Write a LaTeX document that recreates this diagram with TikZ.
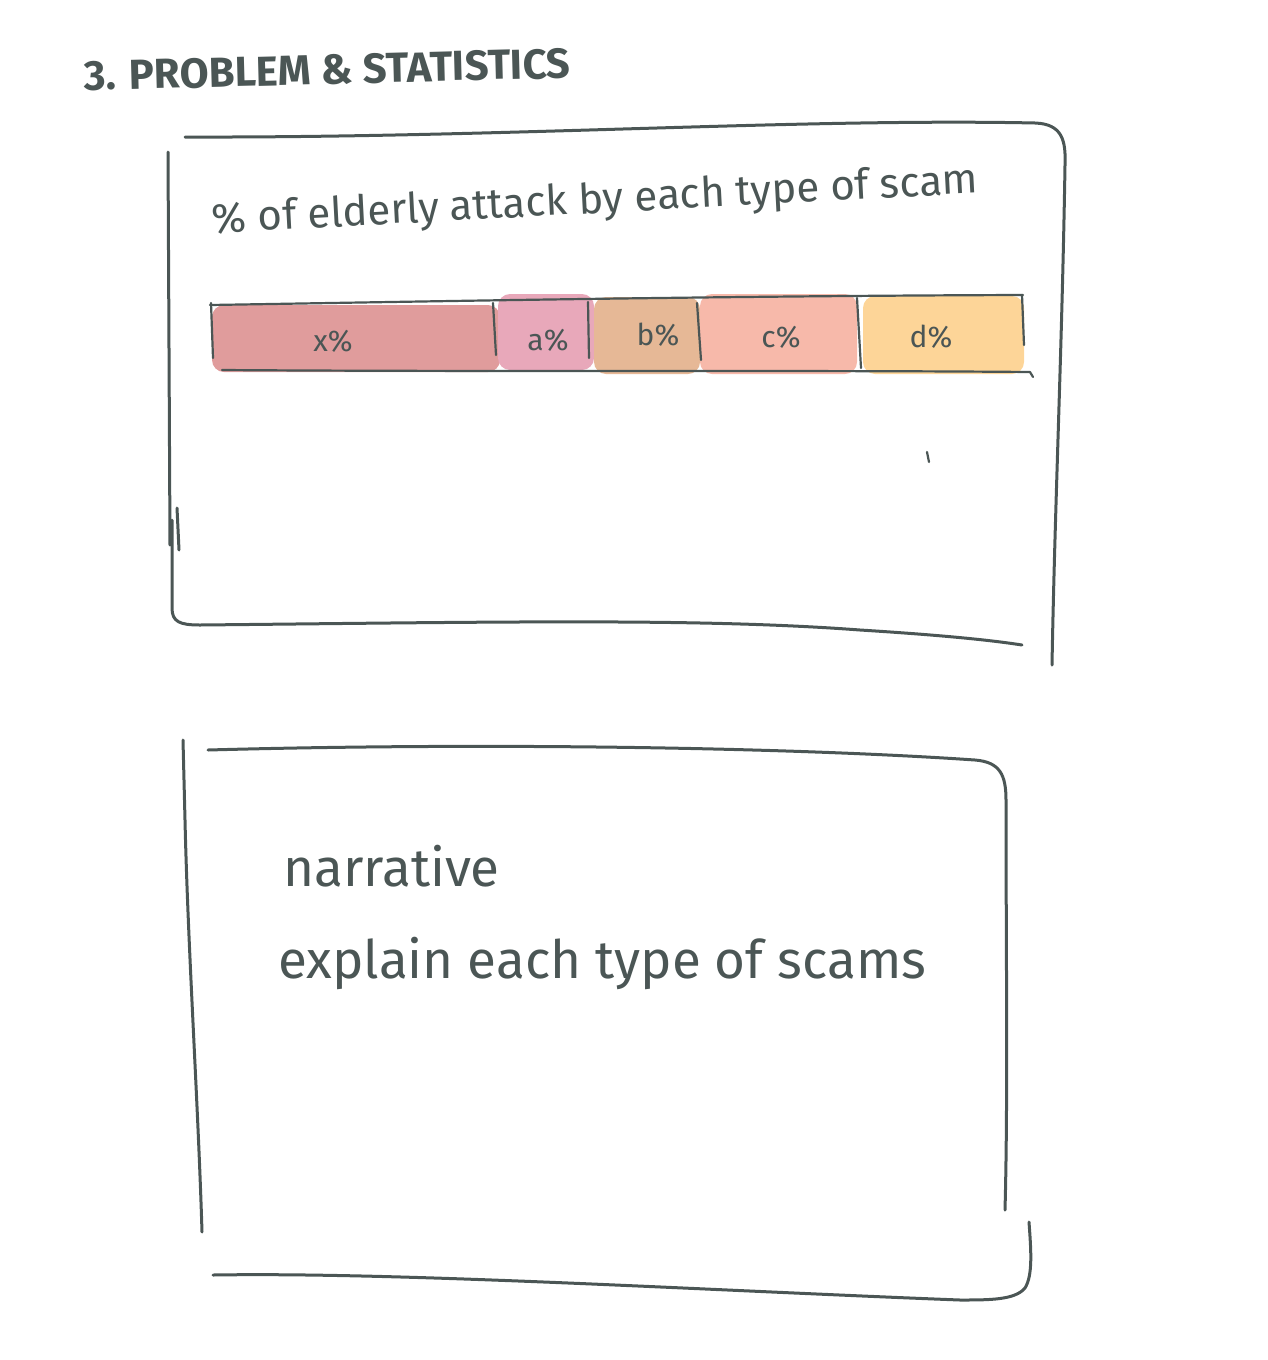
\documentclass[tikz,border=0pt]{standalone}
\usepackage{fontspec}
\setmainfont{Liberation Sans}
\newfontfamily\handfont{Fira Sans}
\definecolor{ink}{HTML}{4B5655}
\definecolor{fx}{HTML}{E09C9C}
\definecolor{fa}{HTML}{E8A8BA}
\definecolor{fb}{HTML}{E6B896}
\definecolor{fc}{HTML}{F7B9AA}
\definecolor{fd}{HTML}{FDD598}
\tikzset{
  pen/.style={draw=ink, line width=3pt, line cap=round, line join=round},
  thinpen/.style={draw=ink, line width=2.2pt, line cap=round, line join=round},
  blob/.style={rounded corners=12pt, draw=none},
  lbl/.style={text=ink, font=\handfont\fontsize{30}{34}\selectfont, inner sep=0pt},
  txt/.style={text=ink, font=\handfont\fontsize{53}{60}\selectfont, inner sep=0pt, anchor=west},
}
\begin{document}
\begin{tikzpicture}[x=1pt,y=-1pt]
\useasboundingbox (0,0) rectangle (1268,1360);
% title
\node[text=ink, font=\handfont\fontseries{sb}\selectfont\fontsize{42}{48}\selectfont, anchor=west, inner sep=0pt, rotate=1.5] (title) at (84,76) {3. PROBLEM \& STATISTICS};

% box 1
\draw[pen] (185,137) .. controls (500,138) and (800,118) .. (1035,123) .. controls (1062,124) and (1066,140) .. (1065,165) .. controls (1062,350) and (1055,500) .. (1052,665);
\draw[pen] (168,152) -- (170,545);
\draw[pen] (177,508) -- (179,550);
\draw[pen] (172,520) -- (172,608) .. controls (172,622) and (180,625) .. (200,625) .. controls (500,622) and (700,618) .. (860,630) .. controls (940,635) and (990,640) .. (1022,645);

% heading text
\node[txt, font=\handfont\fontsize{42}{48}\selectfont, rotate=3] (head) at (212,222) {\% of elderly attack by each type of scam};

% bar fills
\fill[fx, blob] (212,305) rectangle (500,372);
\fill[fa, blob] (498,294) rectangle (594,370);
\fill[fb, blob] (594,297) rectangle (700,374);
\fill[fc, blob] (700,294) rectangle (857,374);
\fill[fd, blob] (863,296) rectangle (1024,374);
% bar outline
\draw[thinpen] (210,305) .. controls (400,302) and (700,296) .. (1023,295);
\draw[thinpen] (222,370) .. controls (500,372) and (800,370) .. (1030,372) -- (1033,377);
\draw[thinpen] (211,303) -- (213,358);
\draw[thinpen] (1022,295) -- (1024,345);
\draw[thinpen] (493,303) -- (496,355);
\draw[thinpen] (588,302) -- (589,358);
\draw[thinpen] (697,303) -- (701,360);
\draw[thinpen] (857,298) -- (861,368);
% labels
\node[lbl] (lx) at (333,341) {x\%};
\node[lbl] (la) at (548,340) {a\%};
\node[lbl] (lb) at (658,335) {b\%};
\node[lbl] (lc) at (781,337) {c\%};
\node[lbl] (ld) at (931,337) {d\%};
% stray tick
\draw[thinpen] (927,452) -- (929,462);

% box 2
\draw[pen] (208,750) .. controls (500,742) and (800,748) .. (975,760) .. controls (1000,762) and (1006,775) .. (1006,800) .. controls (1006,950) and (1008,1100) .. (1005,1210);
\draw[pen] (183,740) -- (185,820) .. controls (188,950) and (198,1100) .. (202,1232);
\draw[pen] (1029,1222) .. controls (1031,1250) and (1033,1275) .. (1025,1288) .. controls (1015,1300) and (990,1300) .. (960,1300) .. controls (700,1290) and (400,1272) .. (213,1275);

\node[txt] (n1) at (283,866) {narrative};
\node[txt] (n2) at (278,963) {explain each type of scams};
\end{tikzpicture}
\end{document}
